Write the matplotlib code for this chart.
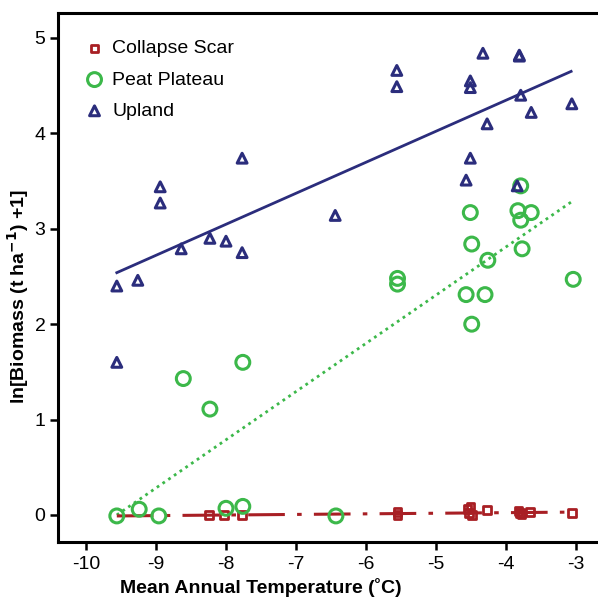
import numpy as np
from matplotlib import pyplot as plt

# Upland (triangles)
up_x = [-9.56, -9.56, -9.26, -8.94, -8.94, -8.64, -8.23, -8.0, -7.77, -7.77, -6.44,
        -5.56, -5.56, -4.51, -4.51, -4.33, -3.81, -3.81, -4.27, -3.79, -3.64, -3.06,
        -4.51, -4.57, -3.84]
up_y = [2.40, 1.60, 2.46, 3.44, 3.27, 2.79, 2.90, 2.87, 3.74, 2.75, 3.14,
        4.66, 4.49, 4.55, 4.48, 4.84, 4.82, 4.81, 4.10, 4.40, 4.22, 4.31,
        3.74, 3.51, 3.45]
up_fit_x = [-9.56, -3.07]
up_fit_y = [2.54, 4.65]

# Peat Plateau (circles)
pp_x = [-9.56, -9.24, -8.96, -8.61, -8.23, -8.0, -7.76, -7.76, -6.43, -5.55, -5.55,
        -4.51, -4.49, -4.57, -4.30, -4.49, -4.26, -3.79, -3.83, -3.64, -3.79, -3.77, -3.04]
pp_y = [-0.01, 0.06, -0.01, 1.43, 1.11, 0.07, 0.09, 1.60, -0.01, 2.48, 2.42,
        3.17, 2.84, 2.31, 2.31, 2.00, 2.67, 3.45, 3.19, 3.17, 3.09, 2.79, 2.47]
pp_fit_x = [-9.56, -3.07]
pp_fit_y = [0.0, 3.28]

# Collapse Scar (squares)
cs_x = [-8.24, -8.03, -7.77, -5.55, -5.55, -4.55, -4.51, -4.53, -4.49, -4.27,
        -3.82, -3.80, -3.78, -3.66, -3.06]
cs_y = [0.0, 0.0, 0.0, 0.03, 0.0, 0.06, 0.09, 0.02, 0.0, 0.05,
        0.04, 0.02, 0.01, 0.03, 0.02]
cs_fit_x = [-9.56, -3.07]
cs_fit_y = [-0.01, 0.03]

navy = '#2b2d7c'
green = '#3cb84a'
red = '#a81f24'

plt.rcParams['font.family'] = ['Liberation Sans', 'DejaVu Sans']
plt.rcParams['axes.unicode_minus'] = False

fig = plt.figure(figsize=(5.98, 5.99), dpi=100)
ax = fig.add_axes([0.097, 0.0952, 0.903, 0.8831])

ax.plot(up_fit_x, up_fit_y, color=navy, lw=2, zorder=2)
ax.plot(pp_fit_x, pp_fit_y, color=green, lw=2, ls=(0, (1, 1.5)), zorder=2)
ax.plot(cs_fit_x, cs_fit_y, color=red, lw=2.2, ls=(0, (12, 4, 1.5, 4)), zorder=2)

ax.scatter(cs_x, cs_y, marker='s', s=30, facecolors='none', edgecolors=red,
           linewidths=2, label='Collapse Scar', zorder=3)
ax.scatter(pp_x, pp_y, marker='o', s=100, facecolors='none', edgecolors=green,
           linewidths=2.2, label='Peat Plateau', zorder=3)
ax.scatter(up_x, up_y, marker='^', s=50, facecolors='none', edgecolors=navy,
           linewidths=2.2, label='Upland', zorder=3)

ax.set_xlim(-10.4, -2.686)
ax.set_ylim(-0.283, 5.262)
ax.set_xticks([-10, -9, -8, -7, -6, -5, -4, -3])
ax.set_yticks([0, 1, 2, 3, 4, 5])
ax.spines['right'].set_visible(False)
for s in ['left', 'top', 'bottom']:
    ax.spines[s].set_linewidth(2.2)
ax.tick_params(direction='out', length=6, width=1.8, labelsize=14)
ax.tick_params(axis='x', pad=4)
ax.tick_params(axis='y', pad=3)

ax.set_xlabel('Mean Annual Temperature (˚C)', fontsize=14, fontweight='bold')
ax.set_ylabel('ln[Biomass (t ha$^{\\mathbf{-1}}$) +1]', fontsize=14, fontweight='bold')
ax.xaxis.set_label_coords(0.376, -0.068)
ax.yaxis.set_label_coords(-0.05, 0.464)

ax.legend(loc='upper left', frameon=False, fontsize=14, handletextpad=0.3,
          borderaxespad=0.6, labelspacing=0.7, handlelength=1.2,
          bbox_to_anchor=(0.01, 0.986))

fig.savefig('out.png', dpi=100)
